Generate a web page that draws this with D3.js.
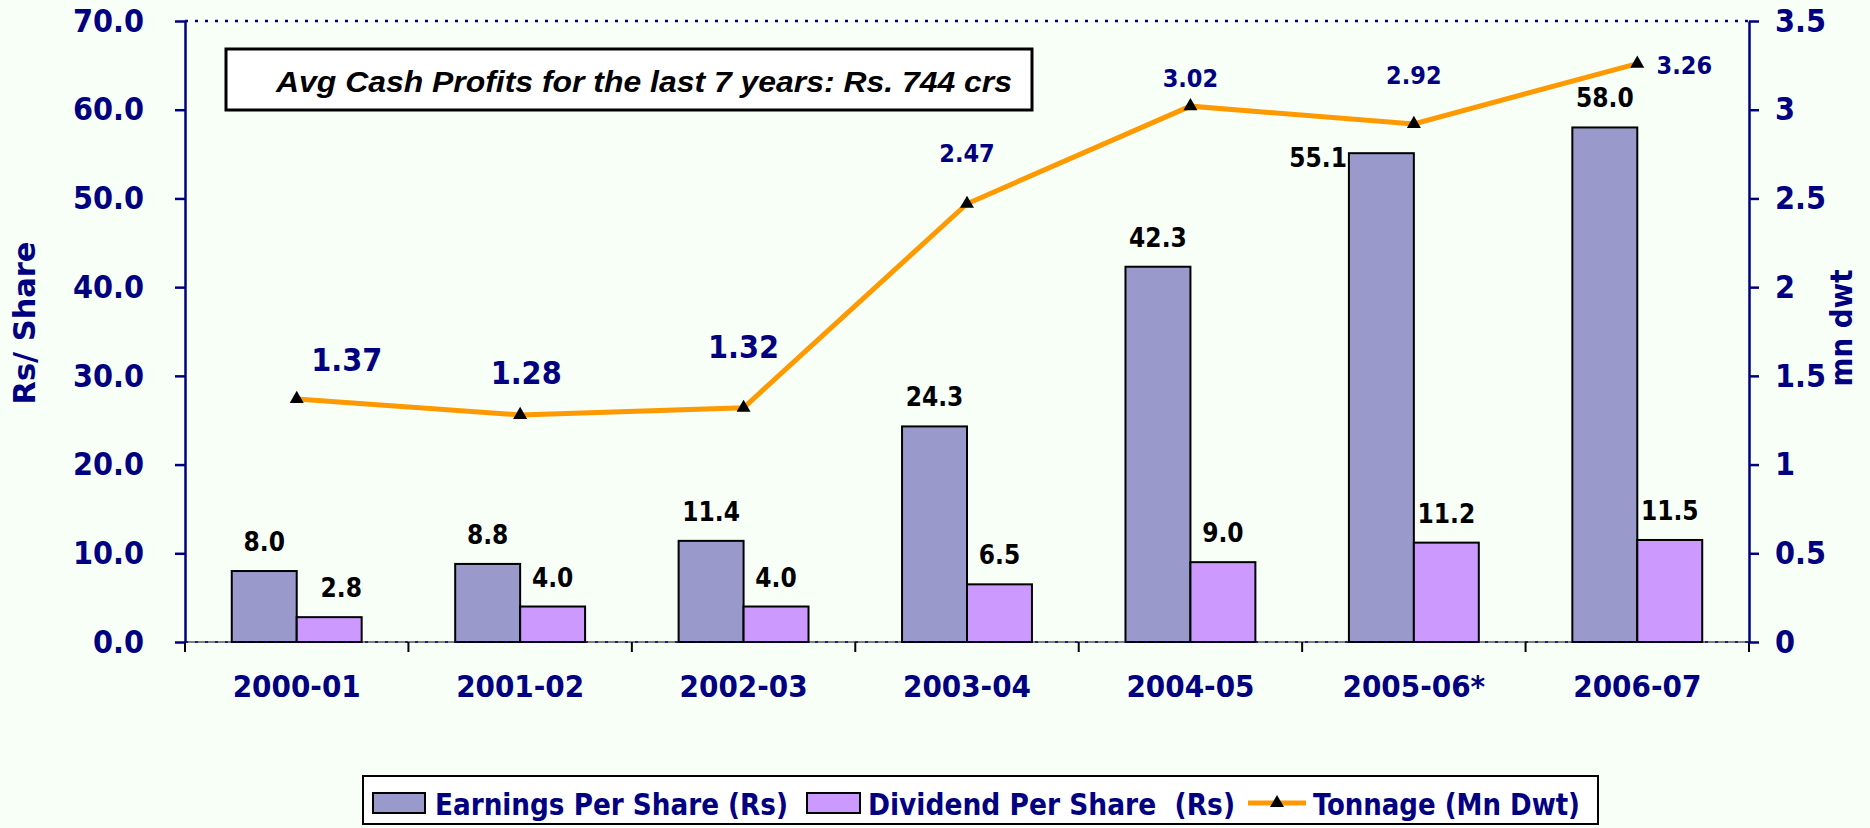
<!DOCTYPE html>
<html>
<head>
<meta charset="utf-8">
<script src="https://cdn.jsdelivr.net/npm/d3@7"></script>
<style>
  html, body { margin: 0; padding: 0; background: #F7FFF7; }
  svg { display: block; }
  text { font-family: 'DejaVu Sans Condensed', 'DejaVu Sans', sans-serif; font-stretch: condensed; font-weight: bold; }
</style>
</head>
<body>
<div id="chart"></div>
<script>
// data
var categories = ["2000-01", "2001-02", "2002-03", "2003-04", "2004-05", "2005-06*", "2006-07"];
var eps = [8.0, 8.8, 11.4, 24.3, 42.3, 55.1, 58.0];
var dps = [2.8, 4.0, 4.0, 6.5, 9.0, 11.2, 11.5];
var tonnage = [1.37, 1.28, 1.32, 2.47, 3.02, 2.92, 3.26];
var leftTicks = [0, 10, 20, 30, 40, 50, 60, 70];
var rightTicks = [0, 0.5, 1, 1.5, 2, 2.5, 3, 3.5];
var seriesNames = ["Earnings Per Share (Rs)", "Dividend Per Share  (Rs)", "Tonnage (Mn Dwt)"];
var note = "Avg Cash Profits for the last 7 years: Rs. 744 crs";

var W = 1870, H = 828;
var navy = "#000080";
var epsColor = "#9999CC", dpsColor = "#CC99FF", lineColor = "#FF9900";

var plot = { left: 185, right: 1749, top: 21, bottom: 642 };

var svg = d3.select("#chart").append("svg")
    .attr("width", W)
    .attr("height", H);

svg.append("rect").attr("width", W).attr("height", H).attr("fill", "#F7FFF7");

var x = d3.scaleBand().domain(categories).range([plot.left, plot.right]).padding(0);
var xs = d3.scaleBand().domain(["eps", "dps"]).range([0, x.bandwidth()]).paddingInner(0).paddingOuter(0.72);
var yL = d3.scaleLinear().domain([0, 70]).range([plot.bottom, plot.top]);
var yR = d3.scaleLinear().domain([0, 3.5]).range([plot.bottom, plot.top]);

// top dotted border
svg.append("line")
    .attr("x1", plot.left).attr("x2", plot.right)
    .attr("y1", plot.top).attr("y2", plot.top)
    .attr("stroke", navy).attr("stroke-width", 2.5)
    .attr("stroke-dasharray", "3,7");

// zero line
svg.append("line")
    .attr("x1", plot.left).attr("x2", plot.right)
    .attr("y1", plot.bottom).attr("y2", plot.bottom)
    .attr("stroke", "#808080").attr("stroke-width", 2);

// bars
var barData = categories.map(function(c, i) { return { cat: c, eps: eps[i], dps: dps[i] }; });

var groups = svg.selectAll(".cat")
    .data(barData)
    .enter().append("g")
    .attr("class", "cat")
    .attr("transform", function(d) { return "translate(" + x(d.cat) + ",0)"; });

groups.append("rect")
    .attr("x", xs("eps"))
    .attr("width", xs.bandwidth())
    .attr("y", function(d) { return yL(d.eps); })
    .attr("height", function(d) { return yL(0) - yL(d.eps); })
    .attr("fill", epsColor).attr("stroke", "#000").attr("stroke-width", 2);

groups.append("rect")
    .attr("x", xs("dps"))
    .attr("width", xs.bandwidth())
    .attr("y", function(d) { return yL(d.dps); })
    .attr("height", function(d) { return yL(0) - yL(d.dps); })
    .attr("fill", dpsColor).attr("stroke", "#000").attr("stroke-width", 2);

// bar labels (55.1 sits at the bar's top-left in the original)
groups.append("text")
    .attr("x", function(d, i) { return i == 5 ? xs("eps") - 2 : xs("eps") + xs.bandwidth() / 2; })
    .attr("y", function(d, i) { return i == 5 ? yL(d.eps) + 14 : yL(d.eps) - 20; })
    .attr("text-anchor", function(d, i) { return i == 5 ? "end" : "middle"; })
    .attr("font-size", 26)
    .text(function(d) { return d.eps.toFixed(1); });

groups.append("text")
    .attr("x", function(d, i) { return xs("dps") + xs.bandwidth() / 2 + (i == 0 ? 12 : 0); })
    .attr("y", function(d) { return yL(d.dps) - 20; })
    .attr("text-anchor", "middle")
    .attr("font-size", 26)
    .text(function(d) { return d.dps.toFixed(1); });

// dotted zero line overlay
svg.append("line")
    .attr("x1", plot.left).attr("x2", plot.right)
    .attr("y1", plot.bottom).attr("y2", plot.bottom)
    .attr("stroke", navy).attr("stroke-width", 1.5)
    .attr("stroke-dasharray", "3,7");

// category boundary ticks
var bounds = categories.map(function(c) { return x(c); }).concat([x.range()[1]]);
svg.selectAll(".bt")
    .data(bounds)
    .enter().append("line")
    .attr("x1", function(d) { return d; }).attr("x2", function(d) { return d; })
    .attr("y1", plot.bottom).attr("y2", plot.bottom + 10)
    .attr("stroke", "#000").attr("stroke-width", 2);

// axes
var leftAxis = svg.append("g")
    .attr("transform", "translate(" + plot.left + ",0)")
    .call(d3.axisLeft(yL).tickValues(leftTicks).tickFormat(function(d) { return d.toFixed(1); })
        .tickSizeInner(10).tickSizeOuter(0).tickPadding(31));

var rightAxis = svg.append("g")
    .attr("transform", "translate(" + plot.right + ",0)")
    .call(d3.axisRight(yR).tickValues(rightTicks).tickFormat(function(d) { return String(d); })
        .tickSizeInner(10).tickSizeOuter(0).tickPadding(16));

var bottomAxis = svg.append("g")
    .attr("transform", "translate(0," + plot.bottom + ")")
    .call(d3.axisBottom(x).tickSize(0).tickPadding(33));

[leftAxis, rightAxis].forEach(function(g) {
  g.attr("font-family", null).attr("font-size", null);
  g.select(".domain").attr("stroke", navy).attr("stroke-width", 2.5);
  g.selectAll(".tick line").attr("stroke", navy).attr("stroke-width", 2.5);
  g.selectAll(".tick text").attr("fill", navy).attr("font-size", 32);
});
bottomAxis.attr("font-family", null).attr("font-size", null);
bottomAxis.select(".domain").remove();
bottomAxis.selectAll(".tick text").attr("fill", navy).attr("font-size", 31);

// tonnage line
var line = d3.line()
    .x(function(d, i) { return x(categories[i]) + x.bandwidth() / 2; })
    .y(function(d) { return yR(d); });

svg.append("path")
    .datum(tonnage)
    .attr("d", line)
    .attr("fill", "none")
    .attr("stroke", lineColor)
    .attr("stroke-width", 5);

svg.selectAll(".marker")
    .data(tonnage)
    .enter().append("path")
    .attr("class", "marker")
    .attr("d", d3.symbol().type(d3.symbolTriangle).size(85))
    .attr("transform", function(d, i) {
      return "translate(" + (x(categories[i]) + x.bandwidth() / 2) + "," + yR(d) + ")";
    })
    .attr("fill", "#000");

// label nudges for the tonnage values, as placed in the original: dx, dy, font size
var lineLabelNudge = [[50, -39, 32], [6, -42, 32], [0, -61, 32], [0, -51, 25], [0, -28, 25], [0, -49, 25], [47, 1, 25]];

svg.selectAll(".tlabel")
    .data(tonnage)
    .enter().append("text")
    .attr("x", function(d, i) { return x(categories[i]) + x.bandwidth() / 2 + lineLabelNudge[i][0]; })
    .attr("y", function(d, i) { return yR(d) + lineLabelNudge[i][1]; })
    .attr("dy", "0.36em")
    .attr("text-anchor", "middle")
    .attr("font-size", function(d, i) { return lineLabelNudge[i][2]; })
    .attr("fill", navy)
    .text(function(d) { return d.toFixed(2); });

// axis titles
svg.append("text")
    .attr("transform", "translate(35,323) rotate(-90)")
    .attr("text-anchor", "middle")
    .attr("font-size", 31)
    .attr("textLength", 163)
    .attr("lengthAdjust", "spacingAndGlyphs")
    .attr("fill", navy)
    .text("Rs/ Share");

svg.append("text")
    .attr("transform", "translate(1852,328) rotate(-90)")
    .attr("text-anchor", "middle")
    .attr("font-size", 31)
    .attr("textLength", 117)
    .attr("lengthAdjust", "spacingAndGlyphs")
    .attr("fill", navy)
    .text("mn dwt");

// note box
svg.append("rect")
    .attr("x", 226).attr("y", 49)
    .attr("width", 806).attr("height", 61)
    .attr("fill", "#fff").attr("stroke", "#000").attr("stroke-width", 3);

svg.append("text")
    .attr("x", 276).attr("y", 92)
    .style("font-family", "'Liberation Sans', Arial, sans-serif")
    .style("font-style", "italic")
    .style("font-stretch", "normal")
    .attr("font-size", 30)
    .attr("textLength", 736)
    .attr("lengthAdjust", "spacingAndGlyphs")
    .text(note);

// legend
var legend = svg.append("g");
legend.append("rect")
    .attr("x", 363).attr("y", 776)
    .attr("width", 1235).attr("height", 48)
    .attr("fill", "#fff").attr("stroke", "#000").attr("stroke-width", 2);

legend.append("rect").attr("x", 373).attr("y", 793).attr("width", 52).attr("height", 20)
    .attr("fill", epsColor).attr("stroke", "#000").attr("stroke-width", 2);
legend.append("rect").attr("x", 807).attr("y", 793).attr("width", 53).attr("height", 20)
    .attr("fill", dpsColor).attr("stroke", "#000").attr("stroke-width", 2);
legend.append("line").attr("x1", 1248).attr("x2", 1306).attr("y1", 803).attr("y2", 803)
    .attr("stroke", lineColor).attr("stroke-width", 5);
legend.append("path")
    .attr("d", d3.symbol().type(d3.symbolTriangle).size(85))
    .attr("transform", "translate(1277,803)")
    .attr("fill", "#000");

var legendText = [[435, 353], [868, 367], [1313, 267]];
legend.selectAll(".lt")
    .data(seriesNames)
    .enter().append("text")
    .attr("x", function(d, i) { return legendText[i][0]; })
    .attr("y", 815)
    .attr("font-size", 31)
    .attr("fill", navy)
    .attr("textLength", function(d, i) { return legendText[i][1]; })
    .attr("lengthAdjust", "spacingAndGlyphs")
    .style("white-space", "pre")
    .text(function(d) { return d; });
</script>
</body>
</html>
